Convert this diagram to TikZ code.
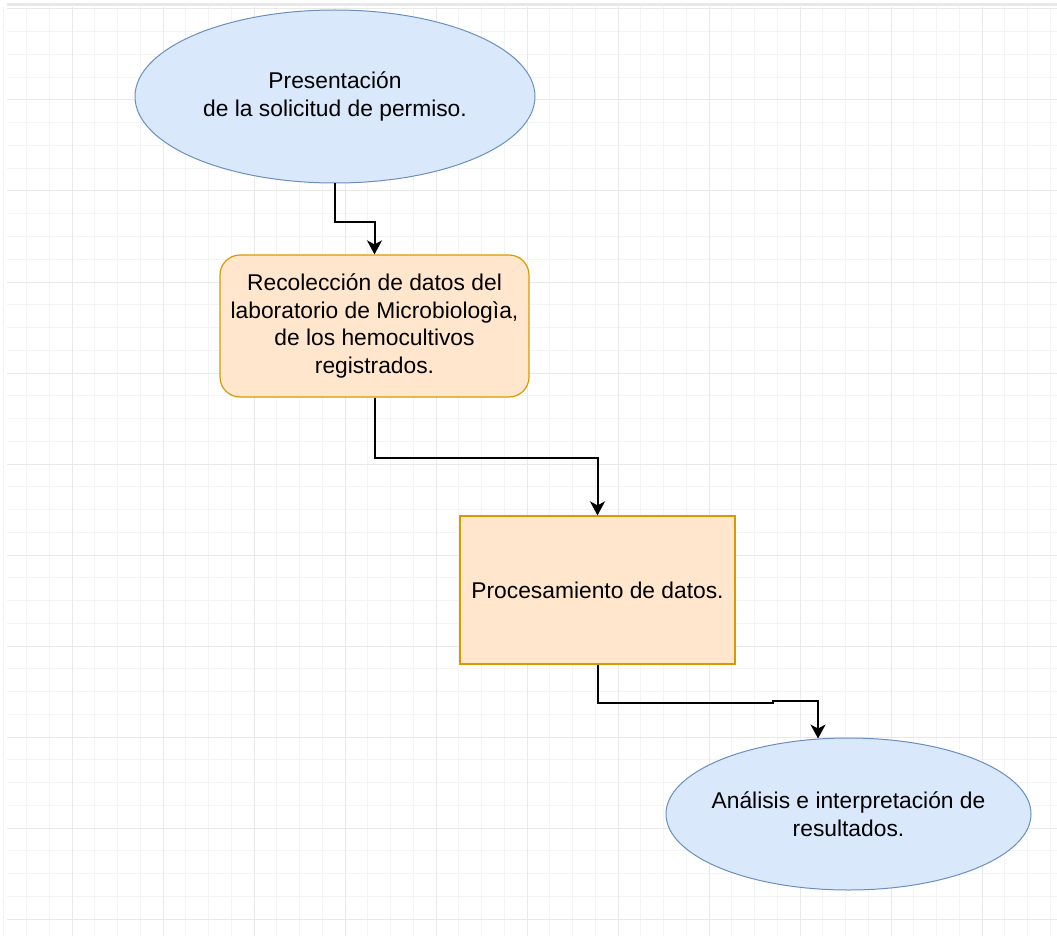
\documentclass[tikz,border=0pt]{standalone}
\usepackage{fontspec}
\setmainfont{Liberation Sans}
\usepackage{xcolor}
\usepackage{tikz}
\usetikzlibrary{shapes.geometric,arrows.meta}

\definecolor{bluefill}{HTML}{DAE8FC}
\definecolor{bluedraw}{HTML}{6C8EBF}
\definecolor{orangefill}{HTML}{FFE6CC}
\definecolor{orangedraw}{HTML}{D79B00}

\begin{document}
\begin{tikzpicture}[x=1pt,y=-1pt,
    font=\fontsize{22.8}{27.5}\selectfont,
    startend/.style={ellipse,draw=bluedraw,fill=bluefill,line width=1pt,inner ysep=0pt,inner xsep=-30pt,align=center},
    roundbox/.style={rectangle,rounded corners=20pt,draw=orangedraw,fill=orangefill,line width=1.2pt,inner sep=0pt,align=center},
    plainbox/.style={rectangle,draw=orangedraw,fill=orangefill,line width=1.2pt,inner sep=0pt,align=center},
    flow/.style={line width=2pt,-{Stealth[length=14pt,width=15pt,inset=4pt]}}]
    \useasboundingbox (0,0) rectangle (1057,936);
    \fill[white] (0,0) rectangle (1057,936);
    % grid
    \foreach \i in {0,...,46}
      \draw[gray!9,line width=1pt] (3.75+22.75*\i,7) -- (3.75+22.75*\i,936);
    \foreach \i in {0,...,40}
      \draw[gray!9,line width=1pt] (7,9+22.75*\i) -- (1057,9+22.75*\i);
    \foreach \i in {0,...,11}
      \draw[gray!17,line width=1pt] (-18.75+91*\i,7) -- (-18.75+91*\i,936);
    \foreach \i in {0,...,10}
      \draw[gray!17,line width=1pt] (7,9+91*\i) -- (1057,9+91*\i);
    \draw[gray!18,line width=3pt] (7,5) -- (1057,5);

    \node [startend,minimum width=400pt,minimum height=173pt] (solicitud) at (335,96.5)
      {Presentación\\ de la solicitud de permiso.};
    \node [roundbox,minimum width=309pt,minimum height=142pt] (recoleccion) at (374.5,326)
      {Recolección de datos del\\ laboratorio de Microbiologìa,\\ de los hemocultivos\\ registrados.};
    \node [plainbox,minimum width=275pt,minimum height=148pt] (procesamiento) at (597.5,590)
      {Procesamiento de datos.};
    \node [startend,minimum width=365pt,minimum height=152pt] (analisis) at (848.5,814)
      {Análisis e interpretación de\\ resultados.};

    \draw [flow] (solicitud.south) -- ++(0,38) -| (recoleccion.north);
    \draw [flow] (recoleccion.south) -- ++(0,60) -| (procesamiento.north);
    \draw [flow] (procesamiento.south) -- ++(0,38) -- ++(175,0) -- ++(0,-2) -| (analisis.112);
\end{tikzpicture}
\end{document}
